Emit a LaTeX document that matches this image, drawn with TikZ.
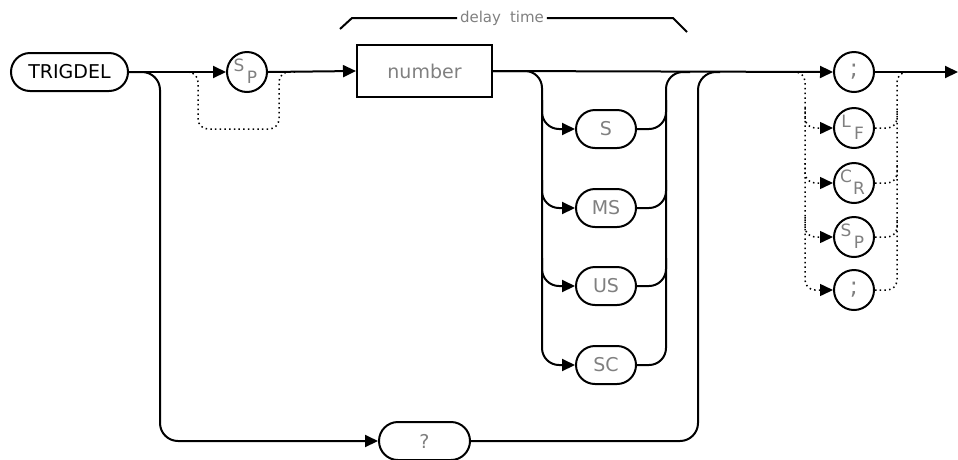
\documentclass[tikz,border=0pt]{standalone}
\usepackage{fontspec}
\setmainfont{DejaVu Sans}
\usetikzlibrary{shapes.misc,arrows.meta}
\newcommand\twolet[5]{%
  \node[circ] (#1) at (#2,#3) {};
  \node[sub,xshift=-8pt,yshift=7pt] (#1-a) at (#1) {#4};
  \node[sub,xshift=5pt,yshift=-5pt] (#1-b) at (#1) {#5};}
\begin{document}
\begin{tikzpicture}[x=1pt,y=-1pt,line width=2pt,
  arr/.style={-{Triangle[length=13pt,width=12pt]}},
  oval/.style={draw,rounded rectangle,minimum height=38pt,minimum width=60pt,inner sep=0pt,text=gray,font=\fontsize{19}{20}\selectfont},
  circ/.style={draw,circle,minimum size=40pt,inner sep=0pt},
  boxnode/.style={draw,rectangle,minimum width=135pt,minimum height=52pt,inner sep=0pt,text=gray,font=\fontsize{19}{20}\selectfont},
  dots/.style={line width=1.5pt,dash pattern=on 1.5pt off 3.2pt},
  sub/.style={text=gray,font=\fontsize{17}{18}\selectfont,inner sep=0pt},
  semi/.style={circ,text=gray,font=\fontsize{24}{24}\selectfont}]
\useasboundingbox (0,0) rectangle (958,459);
% nodes
\node[oval,minimum width=117pt,text=black] (trig) at (69.5,72) {TRIGDEL};
\twolet{sp1}{247}{72}{S}{P}
\node[boxnode] (num) at (424.5,71) {number};
\node[oval] (uS) at (606,129) {S};
\node[oval] (uMS) at (606,208) {MS};
\node[oval] (uUS) at (606,286) {US};
\node[oval] (uSC) at (606,365) {SC};
\node[oval,minimum width=91pt] (q) at (424.5,441) {?};
\node[semi] (sem1) at (854,72) {;};
\twolet{sem2}{854}{128}{L}{F}
\twolet{sem3}{854}{183}{C}{R}
\twolet{sem4}{854}{237}{S}{P}
\node[semi] (sem5) at (854,290) {;};
\node[text=gray,font=\fontsize{15}{16}\selectfont,inner sep=2pt] (dt) at (502,18) {delay\hspace{9pt}time};
% named coordinates
\coordinate (qbend) at (160,441);
\coordinate (bypL) at (188,72);
\coordinate (bypR) at (295,72);
\coordinate (uleft) at (542,365);
\coordinate (ujoin) at (690,72);
\coordinate (qjoin) at (720,72);
\coordinate (dL) at (793,72);
\coordinate (dLb) at (805,290);
\coordinate (dR) at (913,72);
\coordinate (out) at (958,72);
\coordinate (brL) at (340,29);
\coordinate (brR) at (687,32);
% bracket
\draw (brL) -- (352,18) -- (dt.west);
\draw (dt.east) -- (673,18) -- (brR);
% main line
\draw[arr] (trig.east) -- (sp1.west);
\draw[arr] (sp1.east) -- (num.west);
\draw[arr] (num.east) -- (sem1.west);
\draw[arr] (sem1.east) -- (out);
% SP bypass
\draw[dots,rounded corners=10pt] (bypL) -| (198,129) -| (279,72) -- (bypR);
% ? branch
\draw[rounded corners=18pt,arr] (trig.east) -| (qbend) -- (q.west);
\draw[rounded corners=18pt] (q.east) -| (698,72) -- (qjoin);
% unit branches
\draw[rounded corners=17pt,arr] (num.east) -| (uleft) -- (uSC.west);
\draw[rounded corners=17pt,arr] (542,100) |- (uS.west);
\draw[rounded corners=17pt,arr] (542,180) |- (uMS.west);
\draw[rounded corners=17pt,arr] (542,258) |- (uUS.west);
\draw[rounded corners=17pt] (uSC.east) -| (666,72) -- (ujoin);
\draw[rounded corners=17pt] (uS.east) -| (666,100);
\draw[rounded corners=17pt] (uMS.east) -| (666,180);
\draw[rounded corners=17pt] (uUS.east) -| (666,258);
% terminator alternatives
\draw[dots,rounded corners=10pt,arr] (dL) -| (dLb) -- (sem5.west);
\draw[dots,rounded corners=10pt,arr] (805,108) |- (sem2.west);
\draw[dots,rounded corners=10pt,arr] (805,163) |- (sem3.west);
\draw[dots,rounded corners=10pt,arr] (805,217) |- (sem4.west);
\draw[dots,rounded corners=10pt] (sem5.east) -| (897,72) -- (dR);
\draw[dots,rounded corners=10pt] (sem2.east) -| (897,108);
\draw[dots,rounded corners=10pt] (sem3.east) -| (897,163);
\draw[dots,rounded corners=10pt] (sem4.east) -| (897,217);
\end{tikzpicture}
\end{document}
